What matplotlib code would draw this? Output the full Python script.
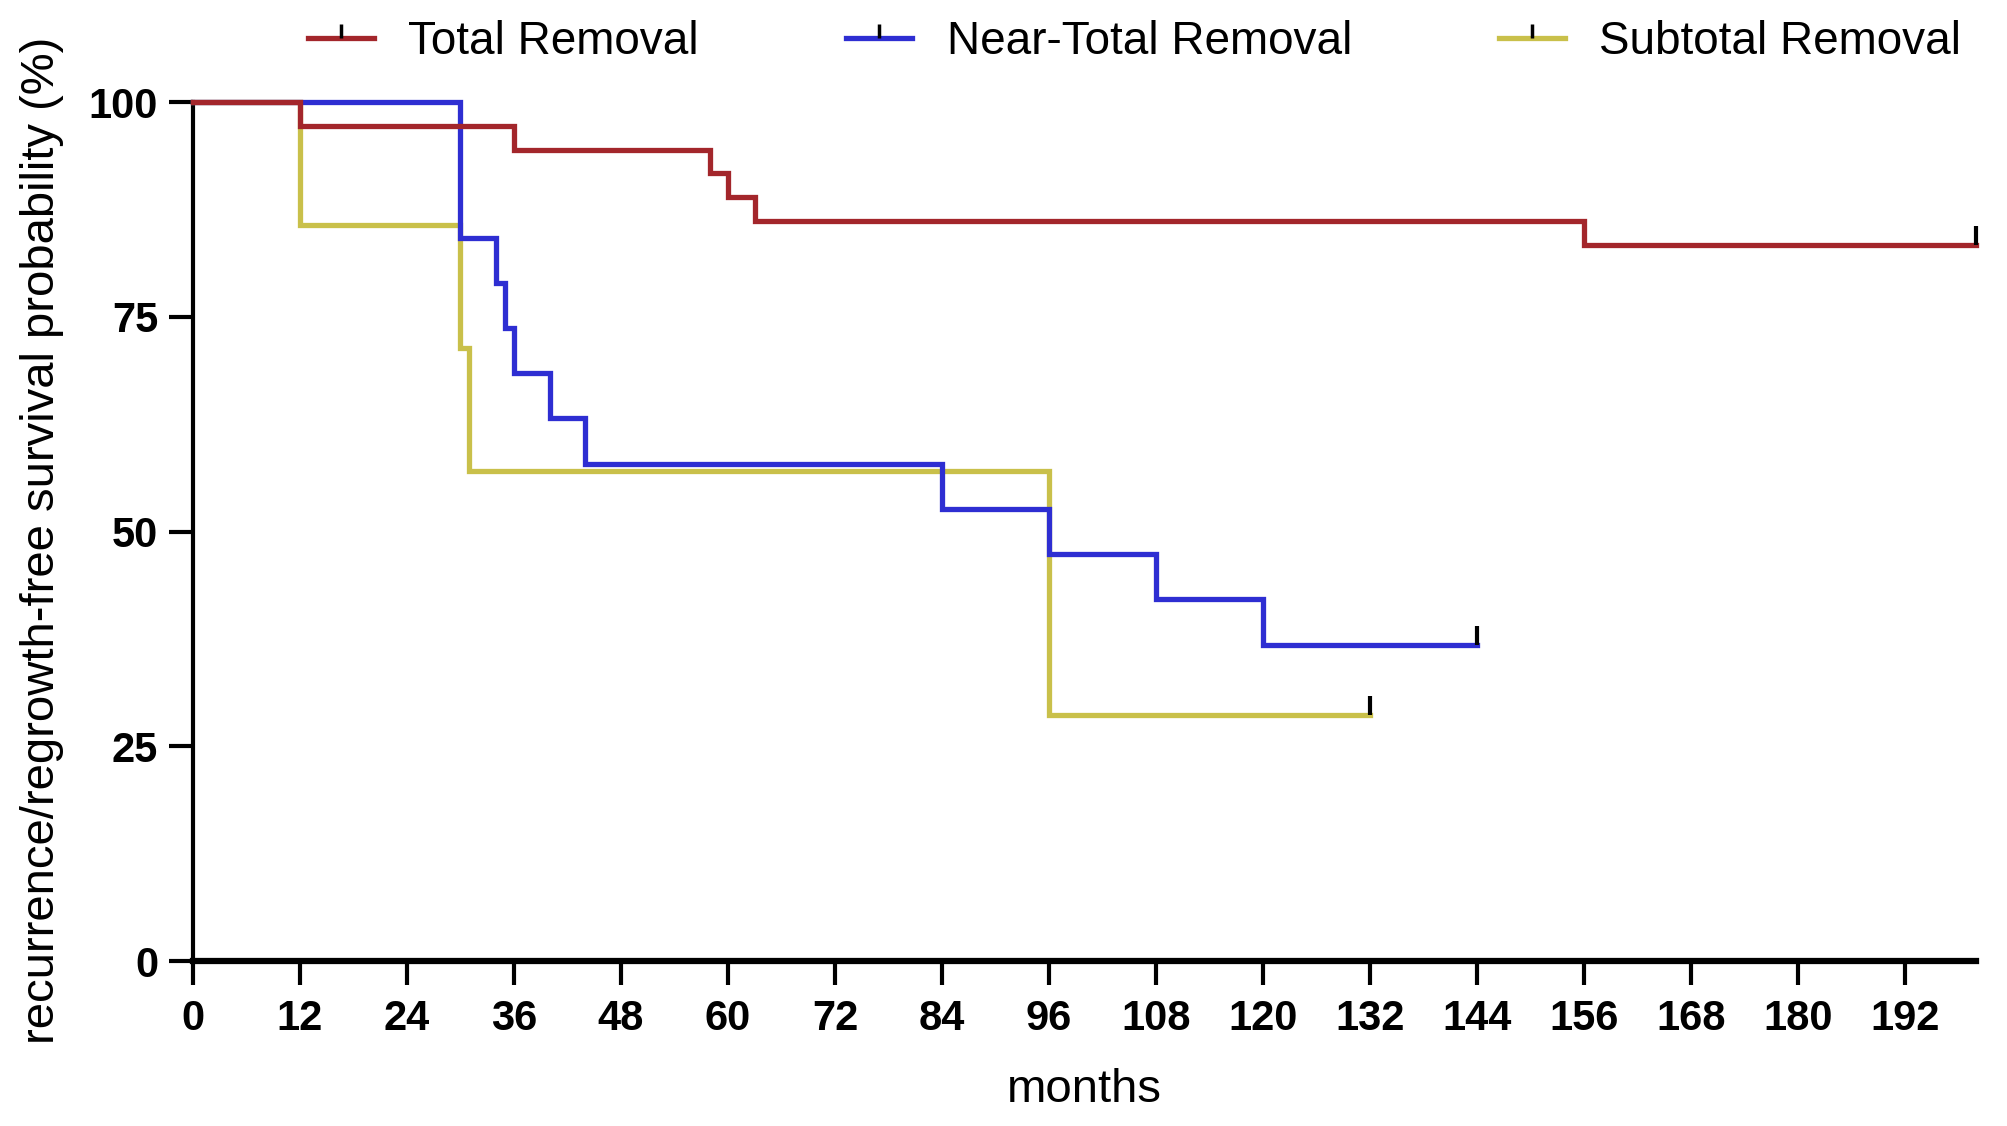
import matplotlib
matplotlib.use("Agg")
import matplotlib.pyplot as plt
from matplotlib.lines import Line2D

plt.rcParams['font.family'] = ['Liberation Sans', 'DejaVu Sans']

# Kaplan-Meier steps (months, survival %)
total_t = [0, 12, 36, 58, 60, 63, 156, 200]
total_s = [100, 97.2, 94.4, 91.7, 88.9, 86.1, 83.3, 83.3]

near_t = [0, 30, 34, 35, 36, 40, 44, 84, 96, 108, 120, 144]
near_s = [100, 84.2, 78.9, 73.7, 68.4, 63.2, 57.9, 52.6, 47.4, 42.1, 36.8, 36.8]

sub_t = [0, 12, 30, 31, 96, 132]
sub_s = [100, 85.7, 71.4, 57.1, 28.6, 28.6]

labels = ['Total Removal', 'Near-Total Removal', 'Subtotal Removal']
colors = ['#a3262b', '#2e2ed2', '#c9c04a']
xticks = list(range(0, 193, 12))
yticks = [0, 25, 50, 75, 100]

fig = plt.figure(figsize=(20.08, 11.26), dpi=100)
ax = fig.add_axes([0.0961, 0.1465, 0.888, 0.7629])

series = [(sub_t, sub_s, colors[2]), (near_t, near_s, colors[1]), (total_t, total_s, colors[0])]
for z, (t, s, c) in enumerate(series):
    ax.step(t, s, where='post', color=c, lw=3.8, clip_on=False, zorder=3 + z,
            solid_joinstyle='miter')
    # censor mark at the end of each curve
    ax.plot([t[-1]], [s[-1]], marker=2, markersize=14, markeredgewidth=3,
            color='black', linestyle='none', clip_on=False, zorder=10)

ax.set_xlim(0, 200)
ax.set_ylim(0, 100)
ax.set_xticks(xticks)
ax.set_yticks(yticks)
ax.tick_params(axis='both', length=17, width=3, labelsize=30, color='black')
ax.tick_params(axis='x', pad=10)
ax.tick_params(axis='y', pad=8)
for lab in ax.get_xticklabels() + ax.get_yticklabels():
    lab.set_fontweight('bold')

for side in ['top', 'right']:
    ax.spines[side].set_visible(False)
ax.spines['left'].set_linewidth(3)
ax.spines['bottom'].set_linewidth(4.5)

ax.set_ylabel('recurrence/regrowth-free survival probability (%)', fontsize=34)
ax.yaxis.set_label_coords(-0.0724, 0.49)
ax.set_xlabel('months', fontsize=34)
ax.xaxis.set_label_coords(0.5, -0.125)

handles = [Line2D([], [], color=c, lw=3.8, marker=2, markersize=10,
                  markeredgewidth=2.5, markeredgecolor='black') for c in colors]
fig.legend(handles, labels, loc='center', bbox_to_anchor=(0.565, 0.963), ncol=3,
           frameon=False, fontsize=33, handlelength=1.45, handletextpad=0.75,
           columnspacing=3.2, numpoints=1)

fig.savefig('out.png', dpi=100)
